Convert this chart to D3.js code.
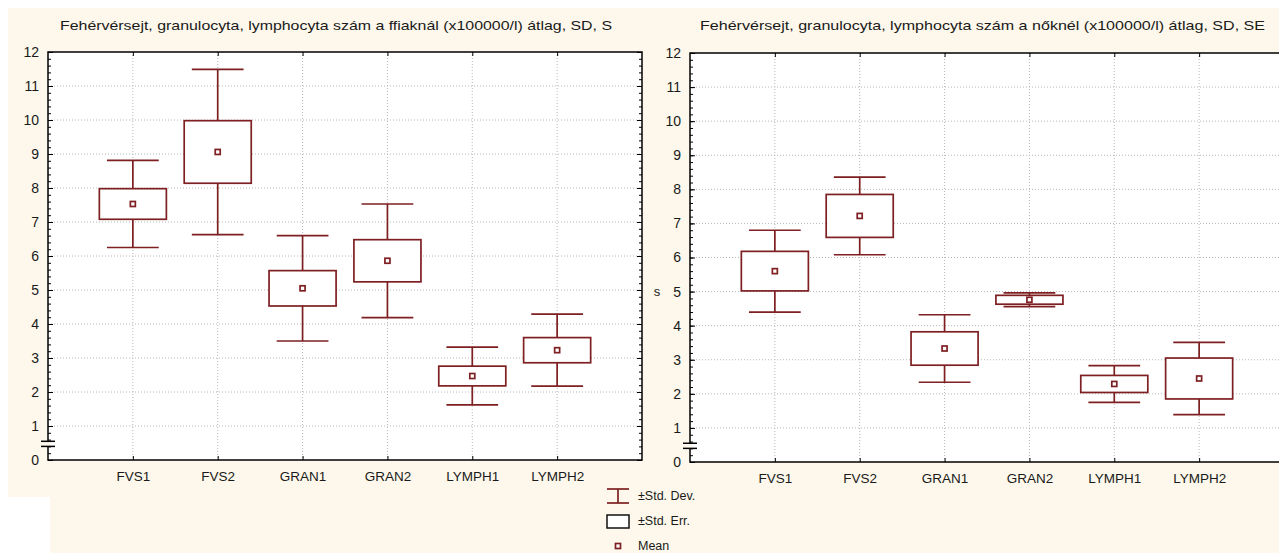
<!DOCTYPE html>
<html>
<head>
<meta charset="utf-8">
<script src="https://cdn.jsdelivr.net/npm/d3@7"></script>
<style>
  html, body { margin: 0; padding: 0; background: #ffffff; }
  svg { display: block; }
  text { font-family: "Liberation Sans", Arial, sans-serif; fill: #1a1a1a; }
</style>
</head>
<body>
<svg id="chart" width="1279" height="553"></svg>
<script>
// ---------- data ----------
const categories = ["FVS1", "FVS2", "GRAN1", "GRAN2", "LYMPH1", "LYMPH2"];
const yTicks = [0, 1, 2, 3, 4, 5, 6, 7, 8, 9, 10, 11, 12];

const titleLeft = "Fehérvérsejt, granulocyta, lymphocyta szám a ffiaknál (x100000/l) átlag, SD, S";
const titleRight = "Fehérvérsejt, granulocyta, lymphocyta szám a nőknél (x100000/l) átlag, SD, SE";

// left panel (ffiak)
const maleMean = [7.53, 9.06, 5.05, 5.86, 2.47, 3.23];
const maleSD   = [1.28, 2.43, 1.55, 1.67, 0.85, 1.06];
const maleSE   = [0.45, 0.92, 0.52, 0.62, 0.29, 0.37];

// right panel (nők)
const femaleMean = [5.60, 7.22, 3.33, 4.76, 2.29, 2.45];
const femaleSD   = [1.20, 1.14, 0.99, 0.20, 0.54, 1.06];
const femaleSE   = [0.58, 0.63, 0.49, 0.13, 0.25, 0.60];

const legendLabels = ["±Std. Dev.", "±Std. Err.", "Mean"];

// ---------- drawing ----------
const svg = d3.select("#chart");
const CREAM = "#fdf8eb";
const MAROON = "#7e1f22";

svg.append("rect").attr("x", 8).attr("y", 8).attr("width", 1271).attr("height", 545).attr("fill", CREAM);
svg.append("rect").attr("x", 0).attr("y", 497).attr("width", 50).attr("height", 56).attr("fill", "#ffffff");

function panel(cfg) {
  const g = svg.append("g");
  const x = d3.scaleLinear().domain([0, categories.length + 1]).range([cfg.left, cfg.right]);
  const y = d3.scaleLinear().domain([0, 12]).range([cfg.bottom, cfg.top]);

  g.append("rect").attr("x", cfg.left).attr("y", cfg.top)
    .attr("width", cfg.right - cfg.left).attr("height", cfg.bottom - cfg.top).attr("fill", "#ffffff");

  // grid
  g.append("g").selectAll("line").data(yTicks.filter(d => d > 0 && d < 12)).join("line")
    .attr("x1", cfg.left).attr("x2", cfg.right).attr("y1", d => y(d)).attr("y2", d => y(d))
    .attr("stroke", "#b8b8b8").attr("stroke-width", 1).attr("stroke-dasharray", "1,2");
  g.append("g").selectAll("line").data(categories.map((c, i) => i + 1)).join("line")
    .attr("x1", d => x(d)).attr("x2", d => x(d)).attr("y1", cfg.top).attr("y2", cfg.bottom)
    .attr("stroke", "#b8b8b8").attr("stroke-width", 1).attr("stroke-dasharray", "1,2");

  // inward ticks
  const minor = d3.range(0, 12.001, 0.2);
  g.append("g").attr("transform", `translate(${cfg.left},0)`)
    .call(d3.axisRight(y).tickValues(minor).tickSize(3).tickFormat(""))
    .call(s => s.select(".domain").remove());
  g.append("g").attr("transform", `translate(${cfg.left},0)`)
    .call(d3.axisRight(y).tickValues(yTicks).tickSize(5).tickFormat(""))
    .call(s => s.select(".domain").remove());
  g.append("g").attr("transform", `translate(${cfg.right},0)`)
    .call(d3.axisLeft(y).tickValues(minor).tickSize(3).tickFormat(""))
    .call(s => s.select(".domain").remove());
  g.append("g").attr("transform", `translate(${cfg.right},0)`)
    .call(d3.axisLeft(y).tickValues(yTicks).tickSize(5).tickFormat(""))
    .call(s => s.select(".domain").remove());
  const catIdx = categories.map((c, i) => i + 1);
  g.append("g").attr("transform", `translate(0,${cfg.top})`)
    .call(d3.axisBottom(x).tickValues(catIdx).tickSize(4).tickFormat(""))
    .call(s => s.select(".domain").remove());
  g.append("g").attr("transform", `translate(0,${cfg.bottom})`)
    .call(d3.axisTop(x).tickValues(catIdx).tickSize(4).tickFormat(""))
    .call(s => s.select(".domain").remove());
  g.selectAll(".tick line").attr("stroke", "#000");

  // frame
  g.append("rect").attr("x", cfg.left).attr("y", cfg.top)
    .attr("width", cfg.right - cfg.left).attr("height", cfg.bottom - cfg.top)
    .attr("fill", "none").attr("stroke", "#000").attr("stroke-width", 1.5);

  // axis break symbol
  const bY1 = y(0.4), bY2 = y(0.55);
  g.append("rect").attr("x", cfg.left - 2).attr("y", bY2).attr("width", 4).attr("height", bY1 - bY2).attr("fill", CREAM);
  g.append("g").selectAll("line").data([bY1, bY2]).join("line")
    .attr("x1", cfg.left - 7).attr("x2", cfg.left + 7).attr("y1", d => d).attr("y2", d => d)
    .attr("stroke", "#000").attr("stroke-width", 1.5);

  // y labels
  g.append("g").attr("transform", `translate(${cfg.left},0)`)
    .call(d3.axisLeft(y).tickValues(yTicks).tickSize(0).tickPadding(9))
    .call(s => s.select(".domain").remove())
    .selectAll("text").style("font-size", "14px").attr("fill", "#1a1a1a");

  // x labels
  g.append("g").attr("transform", `translate(0,${cfg.bottom})`)
    .call(d3.axisBottom(x).tickValues(catIdx).tickFormat(d => categories[d - 1]).tickSize(0).tickPadding(11))
    .call(s => s.select(".domain").remove())
    .selectAll("text").style("font-size", "13.5px").attr("fill", "#1a1a1a");

  // title
  g.append("text").attr("x", cfg.titleX).attr("y", 30).attr("textLength", cfg.titleW)
    .attr("lengthAdjust", "spacingAndGlyphs").style("font-size", "13px").text(cfg.title);

  if (cfg.yTitle) {
    g.append("text").attr("x", cfg.yTitleX).attr("y", y(5)).attr("dy", "0.32em")
      .attr("text-anchor", "middle").style("font-size", "13px").text(cfg.yTitle);
  }

  // boxes
  const unit = x(1) - x(0);
  const boxW = unit * 0.79, capW = unit * 0.61, mk = 5;
  const data = categories.map((c, i) => ({ i: i + 1, m: cfg.mean[i], sd: cfg.sd[i], se: cfg.se[i] }));
  const bg = g.append("g").attr("stroke", MAROON).attr("stroke-width", 1.7).attr("fill", "none");
  const item = bg.selectAll("g").data(data).join("g");
  item.append("line").attr("x1", d => x(d.i)).attr("x2", d => x(d.i))
    .attr("y1", d => y(d.m + d.sd)).attr("y2", d => y(d.m + d.se));
  item.append("line").attr("x1", d => x(d.i)).attr("x2", d => x(d.i))
    .attr("y1", d => y(d.m - d.se)).attr("y2", d => y(d.m - d.sd));
  item.append("line").attr("x1", d => x(d.i) - capW / 2).attr("x2", d => x(d.i) + capW / 2)
    .attr("y1", d => y(d.m + d.sd)).attr("y2", d => y(d.m + d.sd));
  item.append("line").attr("x1", d => x(d.i) - capW / 2).attr("x2", d => x(d.i) + capW / 2)
    .attr("y1", d => y(d.m - d.sd)).attr("y2", d => y(d.m - d.sd));
  item.append("rect").attr("x", d => x(d.i) - boxW / 2).attr("width", boxW)
    .attr("y", d => y(d.m + d.se)).attr("height", d => y(d.m - d.se) - y(d.m + d.se))
    .attr("fill", "#ffffff");
  item.append("rect").attr("x", d => x(d.i) - mk / 2).attr("y", d => y(d.m) - mk / 2)
    .attr("width", mk).attr("height", mk).attr("fill", "#ffffff");
}

panel({ left: 48, right: 642, top: 52, bottom: 460, mean: maleMean, sd: maleSD, se: maleSE,
        title: titleLeft, titleX: 60, titleW: 552 });
panel({ left: 690, right: 1284, top: 53, bottom: 462, mean: femaleMean, sd: femaleSD, se: femaleSE,
        title: titleRight, titleX: 700, titleW: 565, yTitle: "s", yTitleX: 657 });

// legend
const lg = svg.append("g");
const lx = 618, rows = [496, 521, 546];
lg.append("g").attr("stroke", MAROON).attr("stroke-width", 1.7).call(s => {
  s.append("line").attr("x1", lx - 11).attr("x2", lx + 11).attr("y1", rows[0] - 7).attr("y2", rows[0] - 7);
  s.append("line").attr("x1", lx - 11).attr("x2", lx + 11).attr("y1", rows[0] + 7).attr("y2", rows[0] + 7);
  s.append("line").attr("x1", lx).attr("x2", lx).attr("y1", rows[0] - 7).attr("y2", rows[0] + 7);
});
lg.append("rect").attr("x", lx - 11).attr("y", rows[1] - 6).attr("width", 22).attr("height", 13)
  .attr("fill", "#ffffff").attr("stroke", "#111").attr("stroke-width", 1.5);
lg.append("rect").attr("x", lx - 2.5).attr("y", rows[2] - 2.5).attr("width", 5).attr("height", 5)
  .attr("fill", "#ffffff").attr("stroke", MAROON).attr("stroke-width", 1.7);
lg.selectAll("text").data(legendLabels).join("text")
  .attr("x", 638).attr("y", (d, i) => rows[i]).attr("dy", "0.35em")
  .style("font-size", "12.5px").text(d => d);
</script>
</body>
</html>
